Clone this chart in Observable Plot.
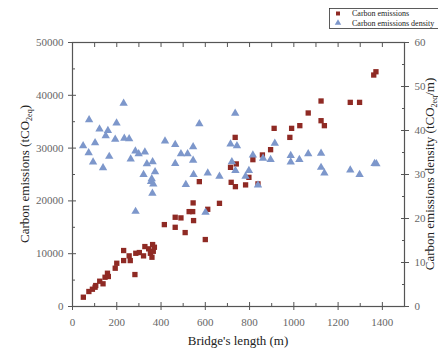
<!DOCTYPE html>
<html><head><meta charset="utf-8">
<script src="https://cdn.jsdelivr.net/npm/d3@7"></script>
<script src="https://cdn.jsdelivr.net/npm/@observablehq/plot@0.6"></script>
<style>
html,body{margin:0;padding:0;background:#fff;overflow:hidden}
#chart{position:relative;width:438px;height:351px}
</style></head><body><div id="chart"></div>
<script>
// Carbon emissions (left axis, tCO2eq) vs bridge length (m)
const emissionLength = [49, 74, 90, 102, 105, 123, 138, 147, 158, 162, 193, 200, 231, 231, 256, 261, 282, 286, 302, 321, 327, 344, 352, 359, 362, 365, 370, 415, 464, 464, 490, 509, 527, 543, 545, 547, 573, 600, 611, 664, 714, 717, 735, 736, 740, 782, 797, 815, 838, 858, 895, 911, 982, 990, 1027, 1065, 1123, 1123, 1138, 1255, 1297, 1361, 1371];
const emissionValue = [1760, 2840, 3270, 3650, 3970, 4790, 4300, 5540, 6300, 5680, 7250, 8190, 10600, 8700, 9590, 8700, 6050, 10080, 10220, 9590, 11350, 10920, 10080, 9330, 11730, 10460, 11220, 15510, 16900, 15000, 16780, 14000, 17970, 17970, 19620, 16270, 23650, 12680, 18410, 19540, 26360, 23520, 32030, 22700, 27000, 23030, 24460, 27810, 23220, 28700, 29700, 33740, 32030, 33740, 34250, 36650, 38920, 35190, 34250, 38660, 38660, 43840, 44460];
// Carbon emissions density (right axis, tCO2eq/m)
const densityLength = [48, 73, 75, 93, 102, 122, 138, 150, 160, 166, 193, 199, 231, 234, 256, 263, 284, 285, 299, 321, 327, 336, 355, 358, 361, 362, 365, 373, 418, 464, 464, 490, 512, 520, 545, 545, 547, 573, 601, 611, 664, 714, 720, 735, 736, 743, 782, 797, 815, 838, 861, 895, 914, 986, 986, 1025, 1065, 1123, 1123, 1138, 1255, 1297, 1365, 1373];
const densityValue = [36.5, 34.9, 42.4, 32.8, 37.2, 40.3, 31.5, 38.8, 40.0, 34.1, 38.0, 41.7, 46.2, 38.2, 38.1, 33.5, 35.3, 21.6, 34.7, 30.0, 35.1, 32.4, 28.4, 29.0, 25.7, 32.9, 27.8, 30.6, 37.6, 36.8, 32.5, 34.7, 27.7, 34.7, 36.3, 33.2, 30.0, 41.5, 21.4, 30.3, 29.6, 36.9, 32.9, 43.9, 30.9, 36.5, 29.6, 30.9, 34.4, 27.6, 33.7, 33.4, 37.1, 34.3, 32.8, 33.4, 34.7, 34.8, 31.6, 30.3, 31.0, 30.0, 32.5, 32.4];

const xTicks = [0, 200, 400, 600, 800, 1000, 1200, 1400];
const xMinorTicks = [100, 300, 500, 700, 900, 1100, 1300];
const xTopTicks = [100, 200, 300, 400, 500, 600, 700, 800, 900, 1000, 1100, 1200, 1300, 1400];
const yLeftTicks = [0, 10000, 20000, 30000, 40000, 50000];
const yLeftMinor = [5000, 15000, 25000, 35000, 45000];
const yRightTicks = [0, 10, 20, 30, 40, 50, 60];
const yRightMinor = [5, 15, 25, 35, 45, 55];

const seriesNames = ["Carbon emissions", "Carbon emissions density"];
const xLabel = "Bridge's length (m)";

const leftMax = 50000, rightMax = 60;
const toLeft = v => v * leftMax / rightMax;

const red = "#8f2a24", blue = "#7d97cb", axisColor = "#555", tickText = "#666";

const emissions = emissionLength.map((x, i) => ({x, y: emissionValue[i]}));
const density = densityLength.map((x, i) => ({x, y: densityValue[i]}));

const tickStyle = {stroke: axisColor, fill: "none", label: null};

const plot = Plot.plot({
  width: 438, height: 351,
  marginLeft: 72, marginRight: 34, marginTop: 42, marginBottom: 45,
  style: {fontFamily: "'Liberation Serif', 'Times New Roman', serif", fontSize: "11px", background: "#fff", overflow: "visible"},
  x: {domain: [0, 1500]},
  y: {domain: [0, leftMax]},
  marks: [
    Plot.axisX(xTicks, {anchor: "bottom", tickSize: 4, ...tickStyle}),
    Plot.axisX(xTicks, {anchor: "bottom", tickSize: -4, ...tickStyle}),
    Plot.axisX(xMinorTicks, {anchor: "bottom", tickSize: -3, ...tickStyle}),
    Plot.axisX(xTopTicks, {anchor: "top", tickSize: -4, ...tickStyle}),
    Plot.axisY(yLeftTicks, {anchor: "left", tickSize: 4, ...tickStyle}),
    Plot.axisY(yLeftTicks, {anchor: "left", tickSize: -4, ...tickStyle}),
    Plot.axisY(yLeftMinor, {anchor: "left", tickSize: -3, ...tickStyle}),
    Plot.axisY(yRightTicks.map(toLeft), {anchor: "right", tickSize: 4, ...tickStyle}),
    Plot.axisY(yRightTicks.map(toLeft), {anchor: "right", tickSize: -4, ...tickStyle}),
    Plot.axisY(yRightMinor.map(toLeft), {anchor: "right", tickSize: -3, ...tickStyle}),
    Plot.axisX(xTicks, {anchor: "bottom", tickSize: 0, tickPadding: 12, stroke: "none", fill: tickText, label: null, tickFormat: d => String(d)}),
    Plot.axisY(yLeftTicks, {anchor: "left", tickSize: 0, tickPadding: 9, stroke: "none", fill: tickText, label: null, tickFormat: d => String(d)}),
    Plot.axisY(yRightTicks.map(toLeft), {anchor: "right", tickSize: 0, tickPadding: 10, stroke: "none", fill: tickText, label: null, tickFormat: d => String(Math.round(d * rightMax / leftMax))}),
    Plot.frame({stroke: axisColor, strokeWidth: 1.2}),
    Plot.dot(emissions, {x: "x", y: "y", symbol: "square", r: 3.0, fill: red, stroke: null}),
    Plot.dot(density, {x: "x", y: d => toLeft(d.y), symbol: "triangle", r: 3.1, fill: blue, stroke: null})
  ]
});

document.getElementById("chart").appendChild(plot);

const svg = d3.select(plot);
const font = "'Liberation Serif', 'Times New Roman', serif";
const yMid = (42 + 306) / 2;

function subLabel(g, main, sub, tail) {
  g.append("tspan").text(main);
  g.append("tspan").attr("dy", 3).attr("font-size", 8).text(sub);
  g.append("tspan").attr("dy", -3).text(tail);
}

const left = svg.append("text")
  .attr("transform", `translate(29,${yMid}) rotate(-90)`)
  .attr("text-anchor", "middle").attr("font-family", font).attr("font-size", 13).attr("fill", "#222");
subLabel(left, "Carbon emissions (tCO", "2eq", ")");

const right = svg.append("text")
  .attr("transform", `translate(433.5,${yMid}) rotate(-90)`)
  .attr("text-anchor", "middle").attr("font-family", font).attr("font-size", 13).attr("fill", "#222");
subLabel(right, "Carbon emissions density (tCO", "2eq", "/m)");

svg.append("text").attr("x", 238).attr("y", 345)
  .attr("text-anchor", "middle").attr("font-family", font).attr("font-size", 13).attr("fill", "#222")
  .text(xLabel);

const lg = svg.append("g");
lg.append("rect").attr("x", 329.5).attr("y", 8.5).attr("width", 130).attr("height", 20)
  .attr("fill", "#fff").attr("stroke", "#333").attr("stroke-width", 0.8);
lg.append("path").attr("d", d3.symbol(d3.symbolSquare, 16)()).attr("transform", "translate(338,13.5)").attr("fill", red);
lg.append("path").attr("d", d3.symbol(d3.symbolTriangle, 18)()).attr("transform", "translate(338,23)").attr("fill", blue);
seriesNames.forEach((name, i) => {
  lg.append("text").attr("x", 352).attr("y", 16 + i * 9.5).attr("text-anchor", "start")
    .attr("font-family", font).attr("font-size", 8).attr("fill", "#222").text(name);
});
</script></body></html>
